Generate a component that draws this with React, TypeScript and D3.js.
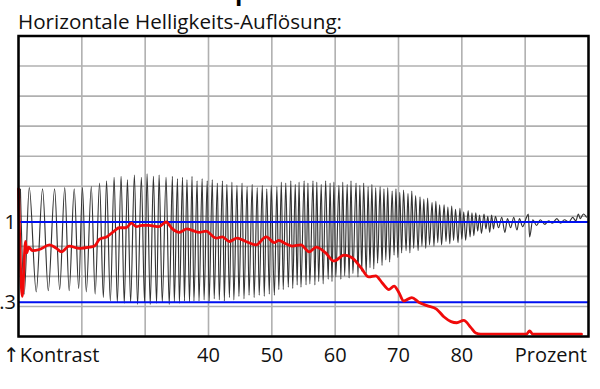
import React from "react";
import * as d3 from "d3";

// ---- data (x in percent, y in contrast units) ----
const xTicks = [40, 50, 60, 70, 80];
const xGrid = [10, 20, 30, 40, 50, 60, 70, 80, 90, 100];
const gridRows = [0, 1, 2, 3, 4, 5, 6, 7, 8, 9, 10];
const refLevels = [
  { value: 1, label: "1" },
  { value: 0.3, label: ".3" },
];

// grey measured signal: alternating extremes [percent, contrast]
const signal: [number, number][] = [
  [10.3, 1.29], [10.9, 0.37],
  [11.7, 1.30], [12.8, 0.39], [13.8, 1.29], [14.7, 0.40], [15.7, 1.29], [16.5, 0.41],
  [17.3, 1.30], [18.0, 0.40], [18.8, 1.29], [19.5, 0.42], [20.1, 1.30], [20.7, 0.39],
  [21.5, 1.31], [22.1, 0.37], [22.8, 1.34], [23.4, 0.34], [23.9, 1.36], [24.5, 0.31],
  [25.1, 1.39], [25.6, 0.30], [26.2, 1.40], [26.7, 0.29], [27.2, 1.37], [27.7, 0.30],
  [28.3, 1.41], [28.8, 0.28], [29.4, 1.39], [29.9, 0.30], [30.3, 1.42], [30.8, 0.28],
  [31.3, 1.40], [31.8, 0.29], [32.2, 1.41], [32.7, 0.30], [33.3, 1.39], [33.8, 0.28],
  [34.3, 1.40], [34.6, 0.30], [35.1, 1.38], [35.4, 0.29], [35.9, 1.39], [36.2, 0.31],
  [36.6, 1.37], [37.0, 0.30], [37.4, 1.40], [37.7, 0.31], [38.2, 1.36], [38.5, 0.31],
  [39.0, 1.38], [39.3, 0.32], [39.8, 1.36], [40.1, 0.31], [40.6, 1.37], [40.9, 0.33],
  [41.4, 1.34], [41.7, 0.32], [42.2, 1.36], [42.5, 0.31], [42.9, 1.33], [43.3, 0.34],
  [43.7, 1.35], [44.0, 0.32], [44.5, 1.32], [44.8, 0.35], [45.3, 1.34], [45.6, 0.33],
  [46.1, 1.31], [46.4, 0.36], [46.9, 1.33], [47.2, 0.34], [47.7, 1.30], [48.0, 0.36],
  [48.5, 1.32], [48.8, 0.35], [49.2, 1.29], [49.6, 0.37], [49.9, 1.32], [50.4, 0.36],
  [50.8, 1.31], [51.1, 0.41], [51.5, 1.35], [51.8, 0.41], [52.2, 1.34], [52.6, 0.43],
  [53.0, 1.36], [53.3, 0.42], [53.7, 1.33], [54.0, 0.45], [54.3, 1.35], [54.6, 0.43],
  [55.1, 1.36], [55.4, 0.45], [55.7, 1.34], [56.0, 0.46], [56.5, 1.36], [56.8, 0.45],
  [57.1, 1.35], [57.4, 0.48], [57.8, 1.33], [58.1, 0.46], [58.5, 1.36], [58.9, 0.50],
  [59.2, 1.34], [59.5, 0.48], [59.8, 1.35], [60.1, 0.52], [60.6, 1.32], [60.9, 0.50],
  [61.2, 1.35], [61.5, 0.53], [61.9, 1.33], [62.2, 0.51], [62.5, 1.36], [62.8, 0.55],
  [63.3, 1.34], [63.6, 0.52], [63.9, 1.32], [64.2, 0.57], [64.5, 1.34], [64.9, 0.55],
  [65.2, 1.31], [65.5, 0.60], [65.8, 1.33], [66.1, 0.59], [66.4, 1.30], [66.7, 0.64],
  [67.1, 1.31], [67.4, 0.62], [67.7, 1.29], [68.0, 0.67], [68.3, 1.30], [68.6, 0.65],
  [69.0, 1.27], [69.3, 0.71], [69.6, 1.29], [69.9, 0.69], [70.2, 1.26], [70.5, 0.73],
  [70.8, 1.28], [71.2, 0.75], [71.5, 1.25], [71.8, 0.73], [72.1, 1.27], [72.4, 0.77],
  [72.7, 1.23], [73.1, 0.75], [73.4, 1.22], [73.7, 0.79], [74.0, 1.20], [74.3, 0.77],
  [74.6, 1.21], [74.9, 0.80], [75.3, 1.17], [75.6, 0.79], [75.9, 1.18], [76.2, 0.82],
  [76.5, 1.15], [76.8, 0.80], [77.2, 1.15], [77.5, 0.83], [77.8, 1.13], [78.1, 0.81],
  [78.4, 1.14], [78.7, 0.84], [79.0, 1.11], [79.4, 0.82], [79.7, 1.12], [80.0, 0.85],
  [80.3, 1.09], [80.6, 0.84], [81.0, 1.10], [81.3, 0.87], [81.6, 1.08], [81.9, 0.88],
  [82.2, 1.08], [82.5, 0.92], [82.8, 1.06], [83.1, 0.90], [83.5, 1.07], [83.8, 0.94],
  [84.1, 1.05], [84.4, 0.91], [84.7, 1.06], [85.0, 0.94], [85.3, 1.05], [85.8, 0.95],
  [86.3, 1.04], [86.8, 0.91], [87.2, 1.03], [87.7, 0.95], [88.2, 1.04], [88.7, 0.93],
  [89.1, 1.03], [89.6, 0.96], [90.2, 1.04], [90.5, 1.07], [90.7, 0.87], [91.2, 1.02],
  [91.8, 0.97], [92.4, 1.02], [93.1, 0.98], [93.7, 1.01], [94.3, 0.99], [95.0, 1.03],
  [95.6, 0.99], [96.2, 1.02], [96.9, 1.00], [97.5, 1.04], [98.0, 1.01], [98.4, 1.07],
  [98.7, 1.03], [99.2, 1.07], [99.7, 1.04],
];

// red contrast curve [percent, contrast]
const contrast: [number, number][] = [
  [10.0, 1.29], [10.6, 0.35], [11.1, 0.83], [11.3, 0.73], [11.6, 0.78], [12.2, 0.75],
  [13.3, 0.76], [14.9, 0.80], [16.0, 0.77], [16.8, 0.74], [18.0, 0.79], [19.6, 0.77],
  [21.2, 0.78], [22.0, 0.79], [22.8, 0.85], [23.9, 0.87], [25.1, 0.92], [25.9, 0.95],
  [27.0, 0.95], [27.8, 0.99], [28.6, 0.96], [29.5, 0.97], [30.6, 0.97], [32.2, 0.96],
  [33.3, 1.00], [34.3, 0.94], [35.4, 0.91], [36.6, 0.94], [38.5, 0.91], [39.6, 0.92],
  [41.2, 0.86], [42.2, 0.87], [43.3, 0.83], [44.5, 0.86], [45.9, 0.83], [47.5, 0.80],
  [49.1, 0.87], [50.4, 0.82], [51.1, 0.84], [52.2, 0.81], [53.2, 0.79], [54.6, 0.80],
  [55.9, 0.74], [57.0, 0.78], [58.5, 0.73], [59.8, 0.66], [61.4, 0.71], [62.6, 0.69],
  [64.1, 0.60], [65.3, 0.52], [66.4, 0.53], [67.4, 0.47], [68.5, 0.41], [69.3, 0.44],
  [70.1, 0.38], [70.8, 0.31], [72.1, 0.34], [73.2, 0.30], [74.5, 0.27], [76.0, 0.24],
  [77.2, 0.17], [78.3, 0.13], [79.2, 0.12], [80.3, 0.14], [81.4, 0.08], [82.2, 0.03],
  [83.0, 0.02], [90.2, 0.02], [90.7, 0.05], [91.2, 0.02], [98.9, 0.02],
];

const W = 600;
const H = 389;
const L = 18.5;
const R = 588.5;
const T = 36;
const B = 336.5;
const FONT = "'Open Sans', 'DejaVu Sans', sans-serif";

export default function App() {
  const x = d3.scaleLinear().domain([10, 100]).range([L, R]);
  const y = d3.scaleLinear().domain([0, 2.625]).range([B, T]);
  const row = d3.scaleLinear().domain([0, 10]).range([B, T]);

  const sigLine = d3
    .line<[number, number]>()
    .x((d) => x(d[0]))
    .y((d) => y(d[1]))
    .curve(d3.curveMonotoneX);
  const redLine = d3
    .line<[number, number]>()
    .x((d) => x(d[0]))
    .y((d) => y(d[1]))
    .curve(d3.curveMonotoneX);

  return (
    <svg
      width={W}
      height={H}
      viewBox={`0 0 ${W} ${H}`}
      style={{ position: "absolute", left: 0, top: 0, background: "#fff" }}
    >
      <rect x={0} y={0} width={W} height={H} fill="#fff" />
      <text x={235} y={0} fontFamily={FONT} fontWeight={700} fontSize={24} fill="#000">
        p
      </text>
      <text
        x={18}
        y={29}
        fontFamily={FONT}
        fontSize={20}
        fill="#111"
        textLength={324}
        lengthAdjust="spacingAndGlyphs"
      >
        Horizontale Helligkeits-Auflösung:
      </text>

      {/* grid */}
      <g stroke="#b0b0b0" strokeWidth={1.6}>
        {xGrid.map((v) => (
          <line key={"gx" + v} x1={x(v)} x2={x(v)} y1={T} y2={B} />
        ))}
        {gridRows.map((r) => (
          <line key={"gy" + r} x1={L} x2={R} y1={row(r)} y2={row(r)} />
        ))}
      </g>

      {/* measured signal */}
      <path d={sigLine(signal) || ""} fill="none" stroke="#333" strokeWidth={1.15} strokeLinejoin="round" />

      {/* reference levels */}
      {refLevels.map((r) => (
        <g key={r.label}>
          <line x1={L} x2={R} y1={y(r.value)} y2={y(r.value)} stroke="#0010f0" strokeWidth={2} />
          <text
            x={16}
            y={y(r.value) + 7}
            textAnchor="end"
            fontFamily={FONT}
            fontSize={20}
            fill="#111"
          >
            {r.label}
          </text>
        </g>
      ))}

      {/* contrast curve */}
      <path
        d={redLine(contrast) || ""}
        fill="none"
        stroke="#f00a0a"
        strokeWidth={2.8}
        strokeLinejoin="round"
        strokeLinecap="round"
      />

      {/* frame */}
      <rect x={L} y={T} width={R - L} height={B - T} fill="none" stroke="#000" strokeWidth={2.5} />

      {/* x axis labels */}
      {xTicks.map((t) => (
        <text
          key={"t" + t}
          x={x(t)}
          y={362}
          textAnchor="middle"
          fontFamily={FONT}
          fontSize={20}
          fill="#111"
        >
          {t}
        </text>
      ))}
      <text x={3} y={362} fontFamily={FONT} fontSize={20} fill="#111">
        ↑Kontrast
      </text>
      <text x={587} y={362} textAnchor="end" fontFamily={FONT} fontSize={20} fill="#111">
        Prozent
      </text>
    </svg>
  );
}
